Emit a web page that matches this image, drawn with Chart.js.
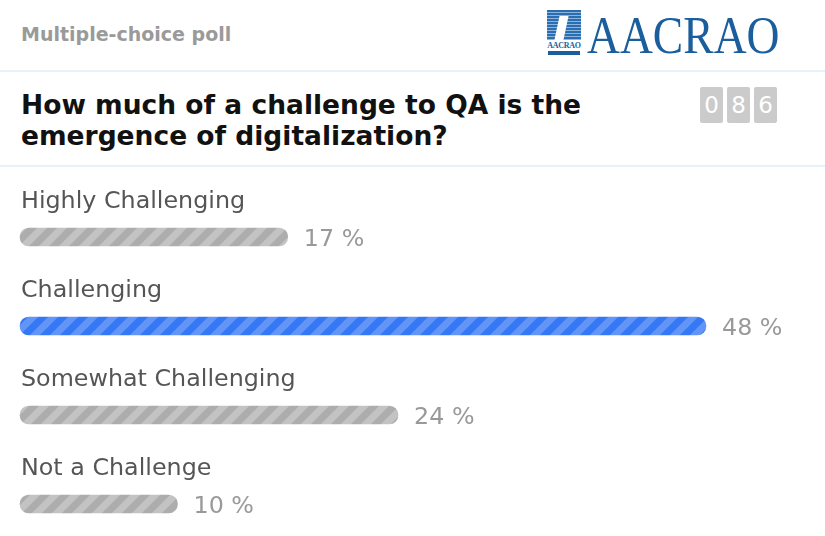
<!DOCTYPE html>
<html>
<head>
<meta charset="utf-8">
<title>Multiple-choice poll</title>
<script src="https://cdn.jsdelivr.net/npm/chart.js@4.4.1/dist/chart.umd.min.js"></script>
<style>
  html, body { margin: 0; padding: 0; background: #fff; width: 825px; height: 536px; overflow: hidden; font-family: "DejaVu Sans", sans-serif; }
  .abs { position: absolute; }
  #kind { left: 21px; top: 22px; font-size: 19px; font-weight: bold; color: #9a9a9a; line-height: 24px; white-space: nowrap; }
  .rule { position: absolute; left: 0; width: 825px; height: 2px; background: #e8f0f8; }
  #question { left: 21px; top: 89px; margin: 0; font-size: 26.5px; font-weight: bold; color: #111; line-height: 31px; white-space: nowrap; }
  #counter { left: 700px; top: 87px; display: flex; gap: 4px; }
  #counter span { display: block; width: 23px; height: 36px; background: #cbcbcb; color: #fff; font-size: 23px; line-height: 36px; text-align: center; border-radius: 2px; }
  #emblem { left: 547px; top: 10px; width: 34px; height: 44px; }
  #emblem .stripes { position: absolute; left: 0; top: 0; width: 34px; height: 30px;
    background: repeating-linear-gradient(to bottom, #2a6db0 0 2px, #8fb4da 2px 3px); }
  #emblem .stripes::after { content: ""; position: absolute; left: 10px; top: 6px; width: 9px; height: 24px; background: #fff; transform: skewX(-12deg); }
  #emblem .small { position: absolute; left: 0; top: 31px; width: 34px; font-family: "Liberation Serif", serif; font-size: 8px; color: #1b5e9e; text-align: center; font-weight: bold; letter-spacing: -0.3px; }
  #emblem .year { position: absolute; left: 1px; top: 41px; width: 32px; height: 4px; background: #1b5e9e; }
  #brand { left: 587px; top: 5px; font-family: "Liberation Serif", serif; font-size: 53px; line-height: 60px; color: #1b5e9e; transform: scaleX(0.86); transform-origin: left top; white-space: nowrap; }
  #wrap { position: absolute; left: 0; top: 170px; width: 825px; height: 366px; }
</style>
</head>
<body>
<div id="kind" class="abs">Multiple-choice poll</div>
<div id="emblem" class="abs"><div class="stripes"></div><div class="small">AACRAO</div><div class="year"></div></div>
<div id="brand" class="abs">AACRAO</div>
<div class="rule" style="top:70px"></div>
<h1 id="question" class="abs">How much of a challenge to QA is the<br>emergence of digitalization?</h1>
<div id="counter" class="abs"></div>
<div class="rule" style="top:165px"></div>
<div id="wrap"><canvas id="poll"></canvas></div>

<script>
'use strict';

// datos de la encuesta
const OPTIONS = ['Highly Challenging', 'Challenging', 'Somewhat Challenging', 'Not a Challenge'];
const PERCENTS = [17, 48, 24, 10];
const VOTE_DIGITS = ['0', '8', '6'];

document.getElementById('counter').innerHTML = VOTE_DIGITS.map(d => '<span>' + d + '</span>').join('');

// barras rayadas (patron diagonal)
function stripes(base, light) {
  const s = 20;
  const c = document.createElement('canvas');
  c.width = s; c.height = s;
  const g = c.getContext('2d');
  g.fillStyle = base;
  g.fillRect(0, 0, s, s);
  g.strokeStyle = light;
  g.lineWidth = s / (2 * Math.SQRT2);
  [0, s, 2 * s].forEach(k => {
    g.beginPath();
    g.moveTo(k + 2, -2);
    g.lineTo(k - s - 2, s + 2);
    g.stroke();
  });
  return g.createPattern(c, 'repeat');
}

const ctx = document.getElementById('poll').getContext('2d');
const BLUE = stripes('#3478f5', '#6395f7');
const GRAY = stripes('#adadad', '#c3c3c3');
const maxPct = Math.max(...PERCENTS);

// escala lineal que no deja pasar la barra mas larga del borde derecho
class ClampScale extends Chart.LinearScale {
  getPixelForValue(v) {
    return Math.min(super.getPixelForValue(v), this.right);
  }
}
ClampScale.id = 'clampLinear';
ClampScale.defaults = Chart.LinearScale.defaults;
Chart.register(ClampScale);

const labelsPlugin = {
  id: 'pollLabels',
  afterDatasetsDraw(chart) {
    const c = chart.ctx;
    const area = chart.chartArea;
    const meta = chart.getDatasetMeta(0);
    c.save();
    c.font = '23.8px "DejaVu Sans"';
    c.textBaseline = 'alphabetic';
    meta.data.forEach((bar, i) => {
      c.fillStyle = '#555';
      c.textAlign = 'left';
      c.fillText(OPTIONS[i], area.left + 1, bar.y - 29);
      c.fillStyle = '#999';
      c.fillText(PERCENTS[i] + ' %', bar.x + 16, bar.y + 8.5);
    });
    c.restore();
  }
};

new Chart(ctx, {
  type: 'bar',
  data: {
    labels: OPTIONS,
    datasets: [{
      data: PERCENTS,
      backgroundColor: PERCENTS.map(v => v === maxPct ? BLUE : GRAY),
      borderWidth: 0,
      borderRadius: 9,
      borderSkipped: false,
      barThickness: 18,
      clip: false
    }]
  },
  options: {
    indexAxis: 'y',
    responsive: true,
    maintainAspectRatio: false,
    animation: false,
    layout: { padding: { left: 20, right: 119, top: 67, bottom: 32 } },
    plugins: { legend: { display: false }, tooltip: { enabled: false } },
    scales: {
      x: { type: 'clampLinear', min: 0, max: 43.55, display: false },
      y: { type: 'category', offset: false, display: false }
    }
  },
  plugins: [labelsPlugin]
});
</script>
</body>
</html>
